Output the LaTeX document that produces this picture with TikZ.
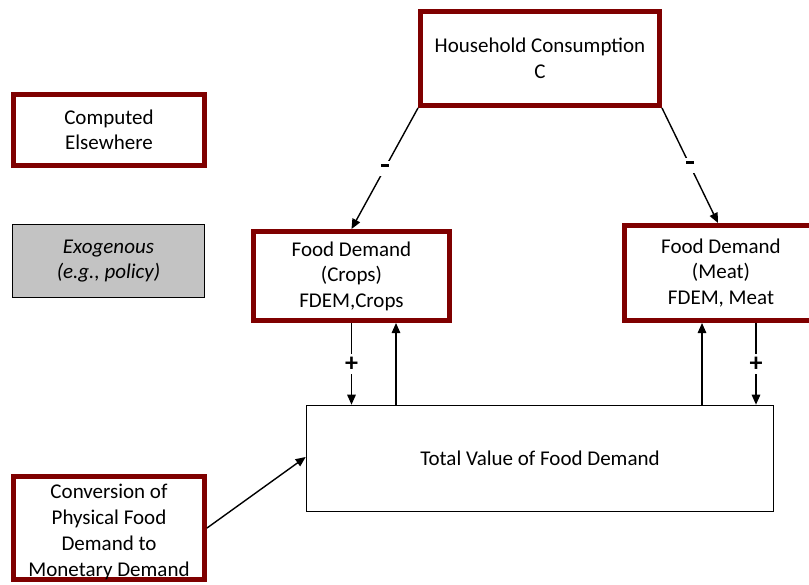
\documentclass[tikz,border=0pt]{standalone}
\usepackage{fontspec}
\setmainfont{Carlito}
\usetikzlibrary{arrows.meta}
\definecolor{boxred}{HTML}{7F0000}
\definecolor{exogrey}{HTML}{C3C3C3}
\newcommand{\minussign}{\rule[6pt]{8pt}{3pt}}
\begin{document}
\begin{tikzpicture}[x=1pt,y=-1pt,
  every node/.style={font=\fontsize{21}{25.5}\selectfont, align=center, inner sep=0pt},
  redbox/.style={draw=boxred, line width=5pt, fill=white},
  thinbox/.style={draw=black, line width=1.6pt},
  arr/.style={line width=1.4pt, -{Triangle[length=10pt,width=8.5pt]}},
  sign/.style={fill=white, inner sep=3pt, font=\fontsize{26}{26}\selectfont\bfseries}]
\useasboundingbox (0,0) rectangle (809,584);

% legend
\node[redbox, minimum width=191pt, minimum height=71pt] (comp) at (109,130) {Computed\\Elsewhere};
\node[thinbox, fill=exogrey, minimum width=192pt, minimum height=73pt] (exo) at (108.5,261) {\itshape Exogenous\\\itshape (e.g., policy)};

% model variables
\node[redbox, minimum width=239pt, minimum height=94pt] (hh) at (540,58.5) {Household Consumption\\C};
\node[redbox, minimum width=196pt, minimum height=89pt] (crops) at (351.5,276) {Food Demand\\(Crops)\\FDEM,Crops};
\node[redbox, minimum width=193pt, minimum height=95pt] (meat) at (721,273) {Food Demand\\(Meat)\\FDEM, Meat};
\node[thinbox, minimum width=467pt, minimum height=106pt] (total) at (540,458.5) {Total Value of Food Demand};
\node[redbox, minimum width=191pt, minimum height=103pt] (conv) at (109,528) {};
\node[font=\fontsize{21}{25.8}\selectfont] (convtext) at (109,532) {Conversion of\\Physical Food\\Demand to\\Monetary Demand};

% attachment columns
\coordinate (cropsUp) at (396,0);
\coordinate (meatUp) at (702,0);
\coordinate (meatDown) at (756,0);
\coordinate (meatIn) at (718,0);

% links
\draw[arr] (hh.south west) -- node[sign]{\minussign} (crops.north);
\draw[arr] (hh.south east) -- node[sign]{\minussign} (meatIn |- meat.north);
\draw[arr] (crops.south) -- node[sign]{+} (total.north -| crops.south);
\draw[arr] (total.north -| cropsUp) -- (cropsUp |- crops.south);
\draw[arr] (total.north -| meatUp) -- (meatUp |- meat.south);
\draw[arr] (meatDown |- meat.south) -- node[sign]{+} (total.north -| meatDown);
\draw[arr] (conv.east) -- ([yshift=1.5pt]total.west);
\end{tikzpicture}
\end{document}
